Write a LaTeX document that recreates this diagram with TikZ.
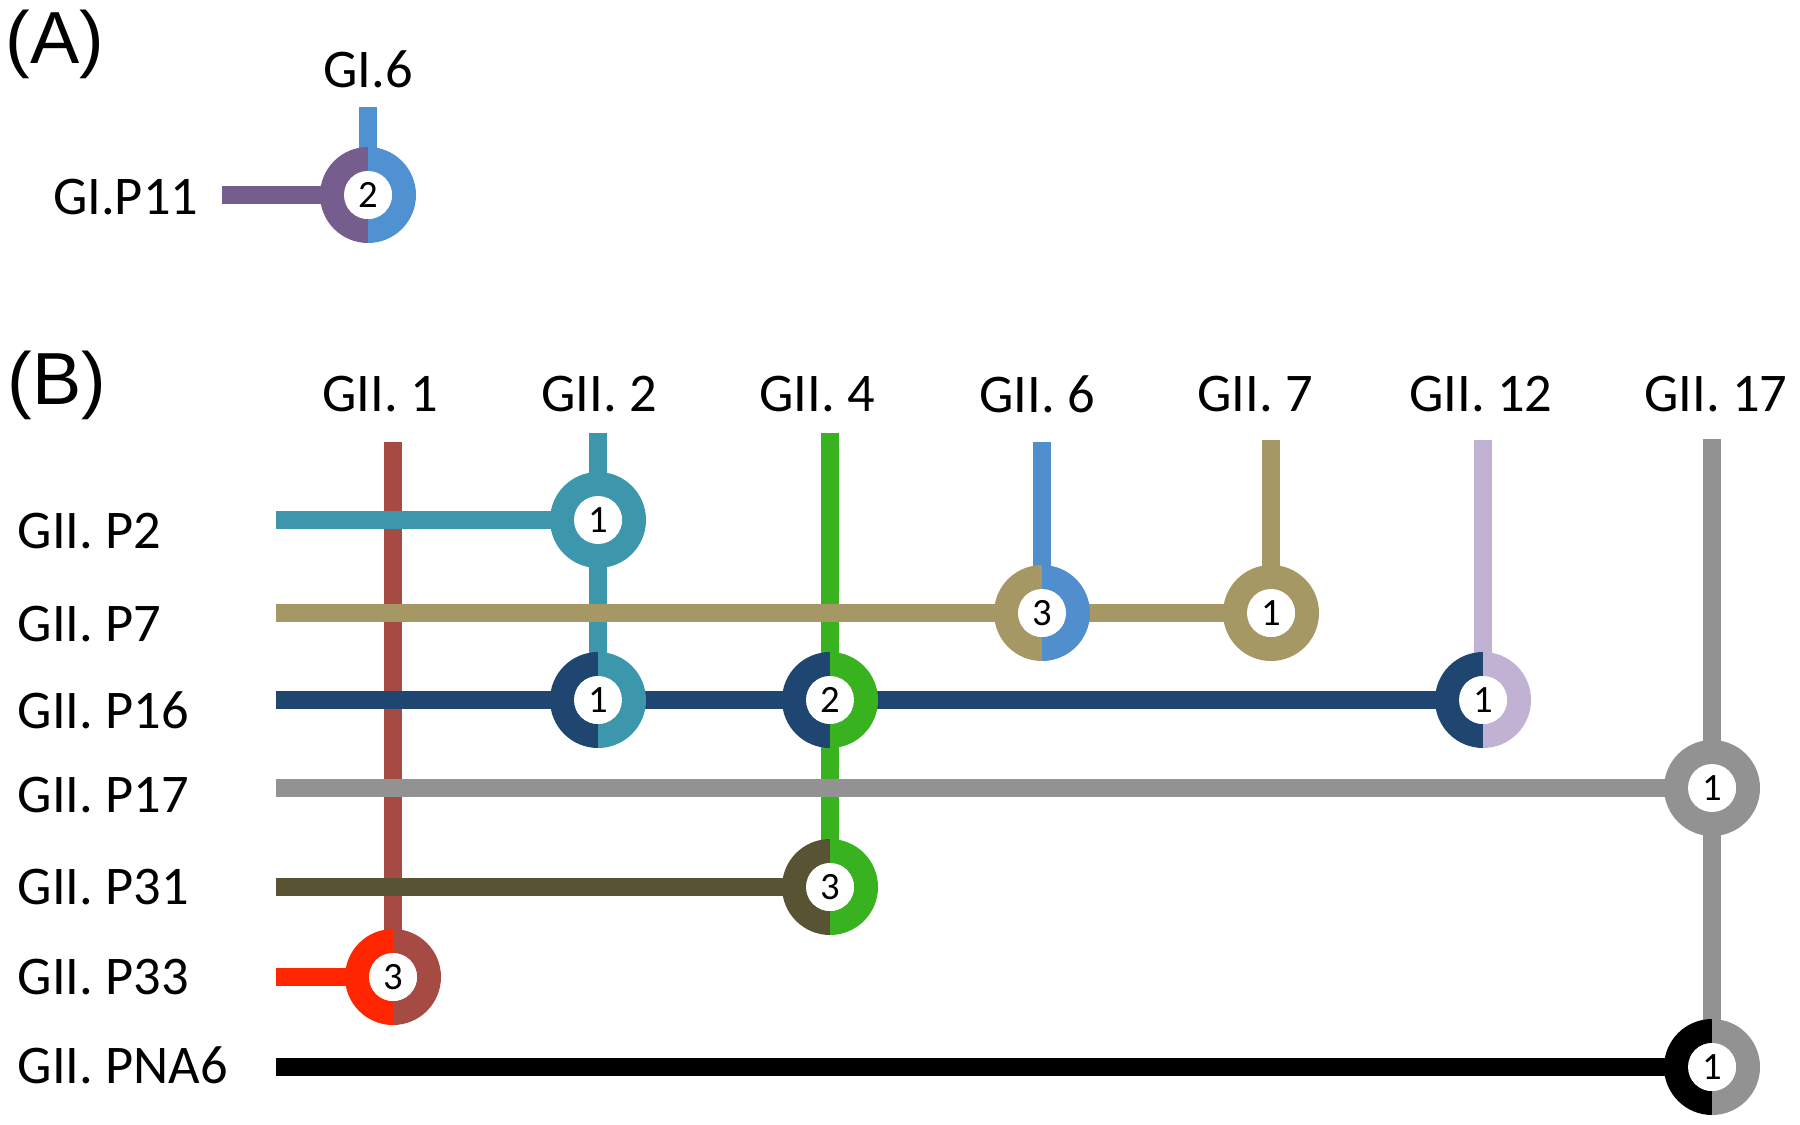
\documentclass[tikz,border=0pt]{standalone}
\usepackage{fontspec}
\setmainfont{Carlito}
\newfontfamily\panelfont{Liberation Sans}
\usepackage{xcolor}
\definecolor{gisix}{RGB}{80,145,210}
\definecolor{gipeleven}{RGB}{117,93,142}
\definecolor{giione}{RGB}{166,75,68}
\definecolor{giitwo}{RGB}{60,150,172}
\definecolor{giifour}{RGB}{56,178,30}
\definecolor{giisix}{RGB}{80,142,205}
\definecolor{giiseven}{RGB}{165,152,100}
\definecolor{giitwelve}{RGB}{193,178,212}
\definecolor{giiseventeen}{RGB}{146,146,146}
\definecolor{pnavy}{RGB}{30,70,112}
\definecolor{polive}{RGB}{88,83,50}
\definecolor{pred}{RGB}{255,38,0}

\tikzset{
  lane/.style={line width=1.75mm},
  lbl/.style={font=\fontsize{15.5}{18}\selectfont, inner sep=0pt},
  panellbl/.style={font=\panelfont\fontsize{21}{24}\selectfont, inner sep=0pt, anchor=base},
  countnum/.style={circle, fill=white, inner sep=0pt, minimum size=4.8mm,
    font=\fontsize{11}{12}\selectfont}
}

% two-coloured ring with the count in its hole
\newcommand{\junction}[4]{%
  \fill[#2] (#1) ++(0pt,4.8mm) arc[start angle=90, end angle=270, radius=4.8mm]
    -- ++(0pt,2.4mm) arc[start angle=270, end angle=90, radius=2.4mm] -- cycle;
  \fill[#3] (#1) ++(0pt,4.8mm) arc[start angle=90, end angle=-90, radius=4.8mm]
    -- ++(0pt,2.4mm) arc[start angle=-90, end angle=90, radius=2.4mm] -- cycle;
  \node[countnum] (#1-n) at (#1) {#4};
}

\begin{document}
\begin{tikzpicture}[x=0.1mm, y=-0.1mm]
\useasboundingbox (0,0) rectangle (1800,1125);

% 1. PANEL A
\node[panellbl] (pa) at (55,64) {(A)};
\node[lbl] (gi6) at (368,69) {GI.6};
\node[lbl, anchor=east] (gip11) at (199,197) {GI.P11};
\coordinate (tgi6) at (368,107);
\coordinate (sgip11) at (222,195);
\coordinate (ja) at (368,195);
\draw[lane, gisix] (tgi6) -- (ja);
\draw[lane, gipeleven] (sgip11) -- (ja);
\junction{ja}{gipeleven}{gisix}{2}

% 2. PANEL B LABELS
\node[panellbl] (pb) at (57,404) {(B)};
\node[lbl] (c1) at (380,394) {GII. 1};
\node[lbl] (c2) at (599,394) {GII. 2};
\node[lbl] (c4) at (817,394) {GII. 4};
\node[lbl] (c6) at (1037,394) {GII. 6};
\node[lbl] (c7) at (1255,394) {GII. 7};
\node[lbl] (c12) at (1481,394) {GII. 12};
\node[lbl] (c17) at (1716,394) {GII. 17};

\node[lbl, anchor=west] (rP2) at (17,531) {GII. P2};
\node[lbl, anchor=west] (rP7) at (17,624) {GII. P7};
\node[lbl, anchor=west] (rP16) at (17,710) {GII. P16};
\node[lbl, anchor=west] (rP17) at (17,795) {GII. P17};
\node[lbl, anchor=west] (rP31) at (17,887) {GII. P31};
\node[lbl, anchor=west] (rP33) at (17,977) {GII. P33};
\node[lbl, anchor=west] (rPNA6) at (17,1065) {GII. PNA6};

% line ends and crossings
\coordinate (t1) at (393,442);
\coordinate (t2) at (598,433);
\coordinate (t4) at (830,433);
\coordinate (t6) at (1042,442);
\coordinate (t7) at (1271,440);
\coordinate (t12) at (1483,440);
\coordinate (t17) at (1712,439);
\coordinate (sP2) at (276,520);
\coordinate (sP7) at (276,613);
\coordinate (sP16) at (276,700);
\coordinate (sP17) at (276,788);
\coordinate (sP31) at (276,887);
\coordinate (sP33) at (276,977);
\coordinate (sPNA6) at (276,1067);
\coordinate (j2a) at (598,520);
\coordinate (j6) at (1042,613);
\coordinate (j7) at (1271,613);
\coordinate (j2b) at (598,700);
\coordinate (j4a) at (830,700);
\coordinate (j12) at (1483,700);
\coordinate (j17a) at (1712,788);
\coordinate (j4b) at (830,887);
\coordinate (j1) at (393,977);
\coordinate (j17b) at (1712,1067);

% 3. VERTICAL LINES
\draw[lane, giione] (t1) -- (j1);
\draw[lane, giitwo] (t2) -- (j2b);
\draw[lane, giifour] (t4) -- (j4b);
\draw[lane, giisix] (t6) -- (j6);
\draw[lane, giiseven] (t7) -- (j7);
\draw[lane, giitwelve] (t12) -- (j12);
\draw[lane, giiseventeen] (t17) -- (j17b);

% 4. HORIZONTAL LINES
\draw[lane, giitwo] (sP2) -- (j2a);
\draw[lane, giiseven] (sP7) -- (j7);
\draw[lane, pnavy] (sP16) -- (j12);
\draw[lane, giiseventeen] (sP17) -- (j17a);
\draw[lane, polive] (sP31) -- (j4b);
\draw[lane, pred] (sP33) -- (j1);
\draw[lane, black] (sPNA6) -- (j17b);

% 5. JUNCTIONS
\junction{j2a}{giitwo}{giitwo}{1}
\junction{j6}{giiseven}{giisix}{3}
\junction{j7}{giiseven}{giiseven}{1}
\junction{j2b}{pnavy}{giitwo}{1}
\junction{j4a}{pnavy}{giifour}{2}
\junction{j12}{pnavy}{giitwelve}{1}
\junction{j17a}{giiseventeen}{giiseventeen}{1}
\junction{j4b}{polive}{giifour}{3}
\junction{j1}{pred}{giione}{3}
\junction{j17b}{black}{giiseventeen}{1}

\end{tikzpicture}
\end{document}
